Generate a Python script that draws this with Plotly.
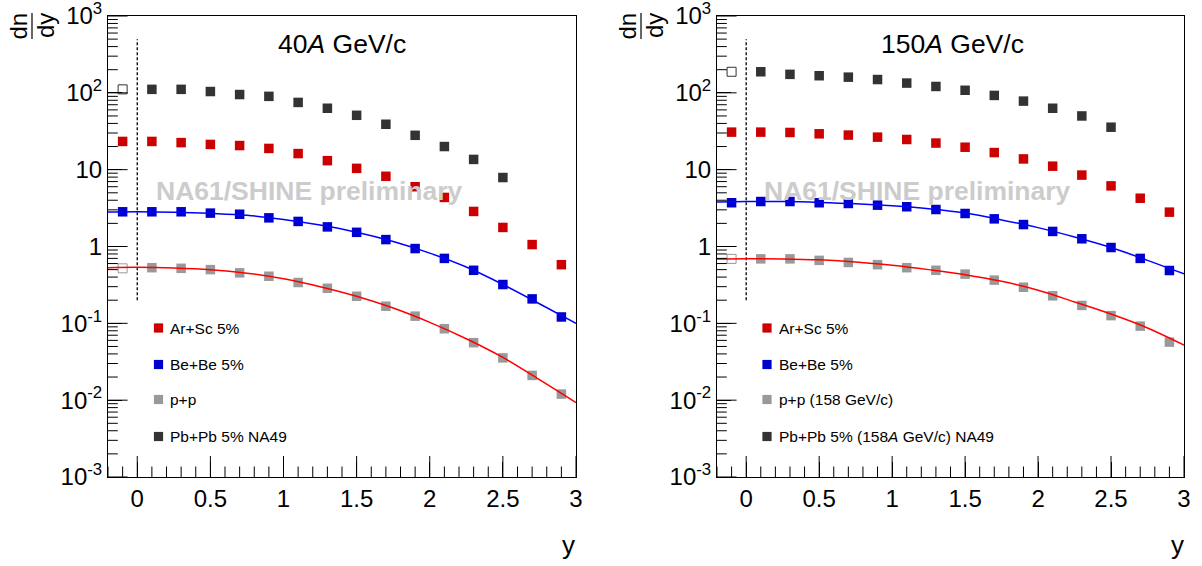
import plotly.graph_objects as go

W, H = 1202, 566

# ---------------- data ----------------
rap = [0.1, 0.3, 0.5, 0.7, 0.9, 1.1, 1.3, 1.5, 1.7, 1.9, 2.1, 2.3, 2.5, 2.7, 2.9]
rap_pb = [0.1, 0.3, 0.5, 0.7, 0.9, 1.1, 1.3, 1.5, 1.7, 1.9, 2.1, 2.3, 2.5]
rap_refl = -0.1

# 40A GeV/c
arsc40 = [23.3, 22.5, 21.3, 20.6, 18.9, 16.2, 13.1, 10.4, 8.2, 6.0, 4.35, 2.86, 1.77, 1.06, 0.58]
bebe40 = [2.83, 2.83, 2.72, 2.63, 2.36, 2.12, 1.80, 1.53, 1.23, 0.94, 0.70, 0.49, 0.32, 0.208, 0.121]
pp40 = [0.53, 0.52, 0.50, 0.454, 0.41, 0.34, 0.286, 0.225, 0.167, 0.124, 0.085, 0.056, 0.0355, 0.021, 0.012]
pbpb40 = [111, 111, 104, 95, 90, 75, 63, 51, 39, 28, 20, 13.6, 7.9]
refl40 = {"arsc": 23.3, "bebe": 2.83, "pp": 0.52, "pbpb": 111}

# 150A GeV/c
arsc150 = [30.8, 30.5, 29.3, 28.2, 26.5, 24.7, 22.2, 19.6, 16.7, 13.8, 11.1, 8.5, 6.15, 4.25, 2.8]
bebe150 = [3.85, 3.85, 3.71, 3.63, 3.45, 3.29, 3.03, 2.69, 2.29, 1.93, 1.57, 1.26, 0.97, 0.70, 0.487]
pp150 = [0.69, 0.69, 0.66, 0.62, 0.58, 0.53, 0.49, 0.437, 0.365, 0.295, 0.228, 0.171, 0.126, 0.092, 0.057]
pbpb150 = [188, 174, 167, 160, 149, 134, 121, 108, 92.5, 78, 63, 50, 35.7]
refl150 = {"arsc": 30.8, "bebe": 3.71, "pp": 0.69, "pbpb": 188}

# fit curves
fit_x = [-0.2, 0.0, 0.25, 0.5, 0.75, 1.0, 1.25, 1.5, 1.75, 2.0, 2.25, 2.5, 2.75, 3.0]
fit_bebe40 = [2.82, 2.84, 2.80, 2.70, 2.55, 2.25, 1.90, 1.53, 1.16, 0.82, 0.54, 0.32, 0.18, 0.10]
fit_pp40 = [0.53, 0.535, 0.525, 0.50, 0.45, 0.38, 0.30, 0.225, 0.158, 0.103, 0.063, 0.036, 0.0185, 0.0093]
fit_bebe150 = [3.80, 3.85, 3.84, 3.75, 3.60, 3.38, 3.10, 2.72, 2.22, 1.76, 1.33, 0.97, 0.66, 0.44]
fit_pp150 = [0.69, 0.695, 0.69, 0.67, 0.63, 0.57, 0.50, 0.43, 0.352, 0.27, 0.19, 0.132, 0.087, 0.052]

# dotted reflection line
refl_line_x = [0.0, 0.0]
refl_line_y = [0.2, 500]

# axes
x_range = [-0.2, 3.0]
y_range_log = [-3, 3]
y_tickvals = [1e-3, 1e-2, 1e-1, 1, 10, 100, 1000]
y_ticktext = ["10<sup>-3</sup>", "10<sup>-2</sup>", "10<sup>-1</sup>", "1", "10", "10<sup>2</sup>", "10<sup>3</sup>"]
x_tickvals = [0, 0.5, 1, 1.5, 2, 2.5, 3]
x_ticktext = ["0", "0.5", "1", "1.5", "2", "2.5", "3"]
x_minor = [round(-0.2 + 0.1 * i, 1) for i in range(33)]
x_minor = [v for v in x_minor if all(abs(v - t) > 1e-6 for t in x_tickvals)]
y_minor = [m * 10 ** e for e in range(-3, 3) for m in range(2, 10)]

series_names_40 = ["Ar+Sc 5%", "Be+Be 5%", "p+p", "Pb+Pb 5% NA49"]
series_names_150 = ["Ar+Sc 5%", "Be+Be 5%", "p+p (158 GeV/c)", "Pb+Pb 5% (158<i>A</i> GeV/c) NA49"]

C_ARSC = "#cc0000"
C_BEBE = "#0000cc"
C_PP = "#999999"
C_PBPB = "#333333"
FONT = "Liberation Sans, Arial, sans-serif"

fig = go.Figure()


def px(x):
    return x / W


def py(y):
    return 1 - y / H


def add_panel(xa, ya, arsc, bebe, pp, pbpb, refl, fb, fp):
    kw = dict(xaxis=xa, yaxis=ya, showlegend=False, hoverinfo="skip")
    fig.add_trace(go.Scatter(x=refl_line_x, y=refl_line_y, mode="lines",
                             line=dict(color="black", width=1.3, dash="3px,2px"), **kw))
    for vals, xs, col, key in [(pbpb, rap_pb, C_PBPB, "pbpb"), (arsc, rap, C_ARSC, "arsc"),
                               (bebe, rap, C_BEBE, "bebe"), (pp, rap, C_PP, "pp")]:
        fig.add_trace(go.Scatter(x=xs, y=vals, mode="markers",
                                 marker=dict(symbol="square", size=9.5, color=col), **kw))
        if key in ("pp", "pbpb"):
            fig.add_trace(go.Scatter(x=[rap_refl], y=[refl[key]], mode="markers",
                                     marker=dict(symbol="square-open", size=9, color=col,
                                                 line=dict(width=1, color=col)), **kw))
        else:
            fig.add_trace(go.Scatter(x=[rap_refl], y=[refl[key]], mode="markers",
                                     marker=dict(symbol="square", size=9.5, color=col), **kw))
    fig.add_trace(go.Scatter(x=fit_x, y=fb, mode="lines", line=dict(color="#0000ff", width=1.5, shape="spline"), **kw))
    fig.add_trace(go.Scatter(x=fit_x, y=fp, mode="lines", line=dict(color="#ff0000", width=1.5, shape="spline"), **kw))

    # ROOT-style inner tick marks (half of each line marker is clipped by the frame)
    y_bottom = 10 ** y_range_log[0]
    x_left = x_range[0]
    for xs, ys, sym, size in [(x_tickvals, [y_bottom] * len(x_tickvals), "line-ns", 30),
                              (x_minor, [y_bottom] * len(x_minor), "line-ns", 15),
                              ([x_left] * len(y_tickvals), y_tickvals, "line-ew", 28),
                              ([x_left] * len(y_minor), y_minor, "line-ew", 14)]:
        fig.add_trace(go.Scatter(x=xs, y=ys, mode="markers", cliponaxis=True,
                                 marker=dict(symbol=sym, size=size, color="black",
                                             line=dict(width=1, color="black")), **kw))


add_panel("x", "y", arsc40, bebe40, pp40, pbpb40, refl40, fit_bebe40, fit_pp40)
add_panel("x2", "y2", arsc150, bebe150, pp150, pbpb150, refl150, fit_bebe150, fit_pp150)

axis_x = dict(range=x_range, tickmode="array", tickvals=x_tickvals, ticktext=x_ticktext,
              ticks="inside", ticklen=15, tickwidth=1, tickcolor="#000000",
              showline=True, linecolor="black", linewidth=1, mirror=True, automargin=False,
              showgrid=False, zeroline=False, ticklabeloverflow="allow",
              tickfont=dict(family=FONT, size=24, color="black"))
axis_y = dict(type="log", range=y_range_log, tickmode="array", tickvals=y_tickvals, ticktext=y_ticktext,
              ticks="inside", ticklen=14, tickwidth=1, tickcolor="#000000",
              showline=True, linecolor="black", linewidth=1, mirror=True, automargin=False,
              showgrid=False, zeroline=False, ticklabeloverflow="allow",
              tickfont=dict(family=FONT, size=24, color="black"))

L0, L1 = 108, 576
R0, R1 = 717, 1184
T, B = 16, 477

fig.update_layout(
    template="none",
    width=W, height=H, margin=dict(l=0, r=0, t=0, b=0, pad=0),
    paper_bgcolor="white", plot_bgcolor="white",
    xaxis=dict(domain=[px(L0), px(L1)], anchor="y", **axis_x),
    yaxis=dict(domain=[py(B), py(T)], anchor="x", **axis_y),
    xaxis2=dict(domain=[px(R0), px(R1)], anchor="y2", **axis_x),
    yaxis2=dict(domain=[py(B), py(T)], anchor="x2", **axis_y),
)

ann = []
shapes = []


def text(x, y, s, size, color="black", xanchor="center", bold=False, angle=0):
    ann.append(dict(x=px(x), y=py(y), xref="paper", yref="paper", text=("<b>%s</b>" % s) if bold else s,
                    showarrow=False, xanchor=xanchor, yanchor="middle", textangle=angle,
                    font=dict(family=FONT, size=size, color=color)))


for off, title, names, leg_x in [(0, "40<i>A</i> GeV/c", series_names_40, 158.5),
                                  (609, "150<i>A</i> GeV/c", series_names_150, 767)]:
    text((341.5 if off == 0 else 952), 44, title, 26.5)
    text((309 if off == 0 else 917.5), 191, "NA61/SHINE preliminary", 26.5, color="#cccccc", bold=True)
    text(18.5 + off, 26, "dn", 24, angle=-90)
    text(46 + off, 26, "dy", 24, angle=-90)
    shapes.append(dict(type="line", xref="paper", yref="paper", x0=px(32 + off), x1=px(32 + off),
                       y0=py(13), y1=py(39), line=dict(color="black", width=1.2)))
    text(568 + off, 545, "y", 26)
    for name, col, yy in zip(names, [C_ARSC, C_BEBE, C_PP, C_PBPB], [328, 364.5, 399.5, 436.5]):
        s = 4.6
        shapes.append(dict(type="rect", xref="paper", yref="paper", x0=px(leg_x - s), x1=px(leg_x + s),
                           y0=py(yy + s), y1=py(yy - s), line=dict(width=0), fillcolor=col))
        text(leg_x + 9.5, yy, name, 15.5, xanchor="left")

fig.update_layout(annotations=ann, shapes=shapes)
fig.write_html("out.html")
